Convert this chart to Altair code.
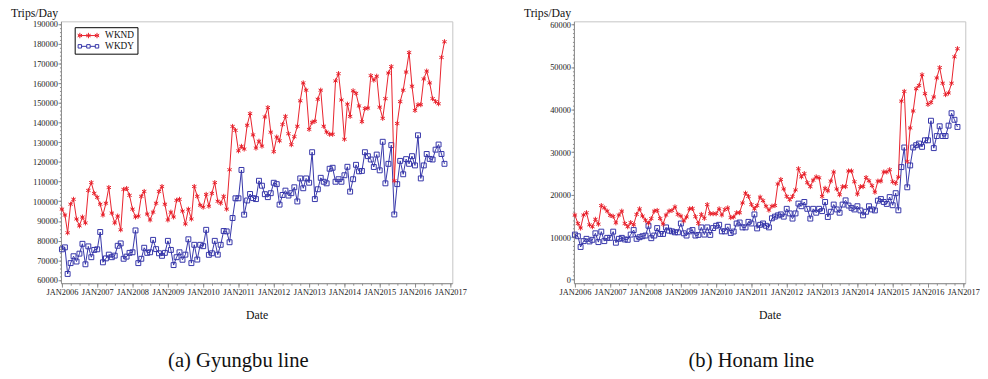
import altair as alt
import pandas as pd

# ---------------- data (monthly, Jan 2006 - Nov 2016) ----------------
months = pd.date_range("2006-01-01", periods=131, freq="MS").strftime("%Y-%m-%d").tolist()

gb_wknd = [
    96000, 93000, 84000, 98500, 101000, 91000, 87500, 92000, 89000, 105500, 109500, 104000,
    102000, 98500, 93000, 99000, 107000, 94000, 89000, 92500, 85500, 106000, 106500, 103000,
    96000, 92000, 92500, 102500, 105000, 93500, 90500, 94500, 99000, 105000, 107500, 98500,
    90500, 94500, 92000, 100500, 101000, 95000, 88500, 96000, 91000, 107500, 102500, 98000,
    97000, 103500, 97500, 104000, 109500, 100000, 99000, 102500, 96000, 116000, 138000, 136000,
    125600, 127900, 126500, 138600, 144500, 133700, 127000, 130500, 128000, 142800, 147600, 135100,
    125200, 132600, 130700, 139000, 143100, 134300, 128700, 132800, 138100, 151000, 160100, 156400,
    136500, 140100, 140600, 151800, 156400, 138100, 135100, 134000, 134000, 161100, 164800, 151400,
    131500, 149300, 143100, 156100, 154800, 148400, 140400, 147100, 147300, 163800, 161500, 163500,
    147800, 142100, 152100, 165100, 168400, 110400, 139500, 150600, 156400, 165600, 175500, 158400,
    146100, 149000, 149000, 162100, 166100, 160100, 152100, 150600, 149500, 173000, 181000,
]
gb_wkdy = [
    75600, 76600, 63100, 68600, 72100, 69400, 73400, 78400, 68000, 77100, 71600, 75300,
    75600, 84400, 69000, 71000, 72900, 71600, 72400, 77400, 78600, 70800, 71900, 73800,
    74100, 85200, 68600, 70800, 76400, 73800, 74100, 80400, 75700, 73600, 72300, 73800,
    79900, 75300, 67600, 71600, 74100, 70300, 72900, 80700, 68600, 77900, 70400, 77900,
    77200, 85500, 72800, 73600, 79900, 72900, 77900, 84900, 84700, 79200, 91500, 101500,
    101500, 115900, 93200, 100400, 103700, 101600, 101100, 110400, 107900, 103600, 102100, 104100,
    109400, 108700, 98300, 103200, 105400, 102900, 104100, 107100, 99900, 111600, 106600, 111600,
    109400, 124900, 101100, 106100, 111900, 109900, 109100, 116500, 117000, 109900, 111200, 109900,
    113200, 117500, 104900, 111200, 118500, 115200, 115400, 124900, 122900, 121200, 117400, 123700,
    115700, 130200, 109100, 119000, 128500, 93300, 108700, 120500, 113700, 121400, 119000, 122900,
    118200, 133500, 111600, 118200, 124000, 121500, 121200, 126200, 128800, 124000, 119000,
]
hn_wknd = [
    15190, 13200, 12120, 15190, 15730, 12890, 12430, 14190, 13040, 17420, 16880, 16110,
    15110, 14880, 13350, 15190, 16110, 13200, 12430, 13430, 12890, 15340, 16650, 14960,
    13960, 13270, 14350, 16110, 16270, 14350, 13040, 15190, 16110, 16270, 17110, 15340,
    14960, 13810, 14730, 16650, 16730, 14810, 13200, 15340, 14420, 17650, 15500, 15500,
    15500, 16650, 15190, 16500, 16880, 14580, 14730, 15730, 15730, 18030, 20330, 19570,
    17650, 16650, 17420, 19410, 18570, 17260, 16340, 17260, 17420, 22480, 23560, 21330,
    19570, 18800, 19570, 21100, 26090, 24170, 24940, 22790, 21870, 23400, 24170, 23940,
    19570, 21490, 20870, 23170, 25320, 21330, 19950, 21870, 21870, 25550, 25550, 23020,
    20100, 21870, 21870, 24020, 23250, 22100, 20570, 23170, 23170, 25320, 25320, 25860,
    23020, 22640, 24170, 41980, 44280, 27780, 35680, 39670, 44900, 45660, 48190, 43740,
    41210, 41670, 42970, 47430, 49880, 46200, 43510, 43900, 46200, 52410, 54330,
]
hn_wkdy = [
    10590, 10200, 7670, 9050, 9590, 8975, 9360, 10890, 8820, 11280, 9050, 9820,
    9820, 11280, 8670, 9590, 9820, 9440, 9360, 10590, 11660, 9590, 9970, 10200,
    10360, 12660, 9740, 10360, 12120, 10740, 10740, 12280, 11510, 11350, 11120, 11120,
    13200, 10890, 10360, 11350, 11660, 10360, 10510, 12280, 10590, 12280, 10510, 12120,
    12660, 12890, 11350, 11350, 12430, 10970, 11300, 13200, 13430, 12280, 12280, 13580,
    13200, 15340, 12040, 12890, 13200, 12660, 12280, 14420, 14810, 15110, 15340, 14810,
    16650, 15570, 14350, 15570, 17880, 17260, 18260, 16650, 14350, 16650, 15730, 16650,
    16110, 18260, 14730, 15960, 17650, 16500, 15730, 17650, 18640, 17420, 16880, 16500,
    17260, 16270, 15110, 15960, 17260, 16500, 16270, 18570, 18950, 18260, 17800, 19410,
    17490, 20330, 16300, 26470, 31080, 21710, 26860, 31080, 31620, 32000, 31230, 32770,
    32770, 37370, 30930, 33770, 36070, 33770, 33770, 36220, 39140, 37600, 35910,
]

series_names = ["WKND", "WKDY"]
gb_yticks = list(range(60000, 190001, 10000))
gb_yminor = list(range(60000, 190001, 2000))
hn_yticks = list(range(0, 60001, 10000))
hn_yminor = list(range(0, 60001, 1000))
year_ticks = [alt.DateTime(year=y, month=1, date=1) for y in range(2006, 2018)]
quarter_ticks = [alt.DateTime(year=y, month=m, date=1)
                 for y in range(2006, 2017) for m in (1, 4, 7, 10)] + \
                [alt.DateTime(year=2017, month=1, date=1)]

RED = "#e8202a"
BLUE = "#3434a8"
AXIS_GRAY = "#8c8c8c"
STAR = "M0,-1V1M-0.87,-0.5L0.87,0.5M-0.87,0.5L0.87,-0.5"


def _ast(cx):
    return (f"M{cx},-0.55V0.55M{cx - 0.45},-0.28L{cx + 0.45},0.28"
            f"M{cx - 0.45},0.28L{cx + 0.45},-0.28")


LEG_ND = "M-1,0H3.2" + _ast(-0.65) + _ast(1.1) + _ast(2.85)
LEG_DY = ("M-1,-0.35h0.7v0.7h-0.7z M0.75,-0.35h0.7v0.7h-0.7z M2.5,-0.35h0.7v0.7h-0.7z"
          "M-0.3,0H0.75 M1.45,0H2.5")

SERIF = "Liberation Serif"
X_DOMAIN = [alt.DateTime(year=2005, month=12, date=22), alt.DateTime(year=2017, month=1, date=21)]


def panel(wknd, wkdy, ydomain, yticks, yminor, caption):
    df = pd.DataFrame({
        "date": months + months,
        "value": wknd + wkdy,
        "series": ["WKND"] * len(wknd) + ["WKDY"] * len(wkdy),
    })
    base = alt.Chart(df)
    xs = alt.Scale(domain=X_DOMAIN)
    ys = alt.Scale(domain=ydomain, nice=False, zero=False)
    x_main = alt.X("date:T", scale=xs, axis=alt.Axis(
        values=year_ticks, labelExpr="'JAN' + timeFormat(datum.value, '%Y')",
        labelFlush=False, labelOverlap=False, tickSize=4, labelPadding=1,
        title="Date", titlePadding=14, orient="bottom"))
    y_main = alt.Y("value:Q", scale=ys, axis=alt.Axis(
        values=yticks, format="d", tickSize=3, labelPadding=0.5, orient="left",
        title="Trips/Day", titleAngle=0, titleAlign="left",
        titleBaseline="alphabetic", titleX=-51.5, titleY=-5))
    x_minor = alt.X("date:T", scale=xs, axis=alt.Axis(
        values=quarter_ticks, labels=False, domain=False, tickSize=2, title=None,
        orient="bottom"))
    y_minor = alt.Y("value:Q", scale=ys, axis=alt.Axis(
        values=yminor, labels=False, domain=False, tickSize=1.5, title=None, orient="left"))
    x_plain = alt.X("date:T", scale=xs, axis=None)
    y_plain = alt.Y("value:Q", scale=ys, axis=None)

    dy = base.transform_filter(alt.datum.series == "WKDY")
    nd = base.transform_filter(alt.datum.series == "WKND")
    minor_layer = dy.mark_point(opacity=0).encode(x=x_minor, y=y_minor)
    line_dy = dy.mark_line(color=BLUE, strokeWidth=1).encode(x=x_main, y=y_main)
    pts_dy = dy.mark_point(shape="square", filled=False, color=BLUE, size=25, strokeWidth=1,
                           opacity=1).encode(x=x_plain, y=y_plain)
    line_nd = nd.mark_line(color=RED, strokeWidth=1).encode(x=x_plain, y=y_plain)
    pts_nd = nd.mark_point(shape=STAR, filled=False, color=RED, size=26, strokeWidth=1,
                           opacity=1).encode(x=x_plain, y=y_plain)
    leg = alt.Legend(orient="none", legendX=14, legendY=6, title=None, strokeColor="#000",
                     fillColor="white", padding=3, labelFont=SERIF, labelFontSize=9.5,
                     labelColor="#111", symbolSize=100, symbolStrokeWidth=1, symbolOpacity=1,
                     labelOffset=17, rowPadding=0)
    legend_layer = base.mark_point(opacity=0, filled=False).encode(
        x=x_plain, y=y_plain,
        color=alt.Color("series:N", scale=alt.Scale(domain=series_names, range=[RED, BLUE]),
                        legend=leg),
        shape=alt.Shape("series:N", scale=alt.Scale(domain=series_names, range=[LEG_ND, LEG_DY]),
                        legend=leg),
    )
    return alt.layer(minor_layer, line_dy, pts_dy, line_nd, pts_nd, legend_layer).resolve_axis(
        x="independent", y="independent"
    ).properties(
        width=399, height=267,
        title=alt.TitleParams(caption, orient="bottom", font=SERIF, fontSize=21,
                              fontWeight="normal", color="#111", offset=30, frame="bounds",
                              anchor="middle"),
    )


left = panel(gb_wknd, gb_wkdy, [58400, 191350], gb_yticks, gb_yminor, "(a) Gyungbu line")
right = panel(hn_wknd, hn_wkdy, [-850, 60760], hn_yticks, hn_yminor, "(b) Honam line")

chart = alt.hconcat(left, right, spacing=124, bounds="flush").properties(
    padding={"left": 2, "top": -6, "right": 0, "bottom": 0}
).configure(background="white").configure_view(stroke="#c4c4c4", strokeWidth=1).configure_axis(
    domainColor=AXIS_GRAY, tickColor=AXIS_GRAY, grid=False,
    labelFont=SERIF, labelFontSize=8.5, labelColor="#222",
    titleFont=SERIF, titleFontSize=12, titleFontWeight="normal", titleColor="#111",
)

chart.save("out.html", embed_options={"renderer": "svg", "actions": False})
